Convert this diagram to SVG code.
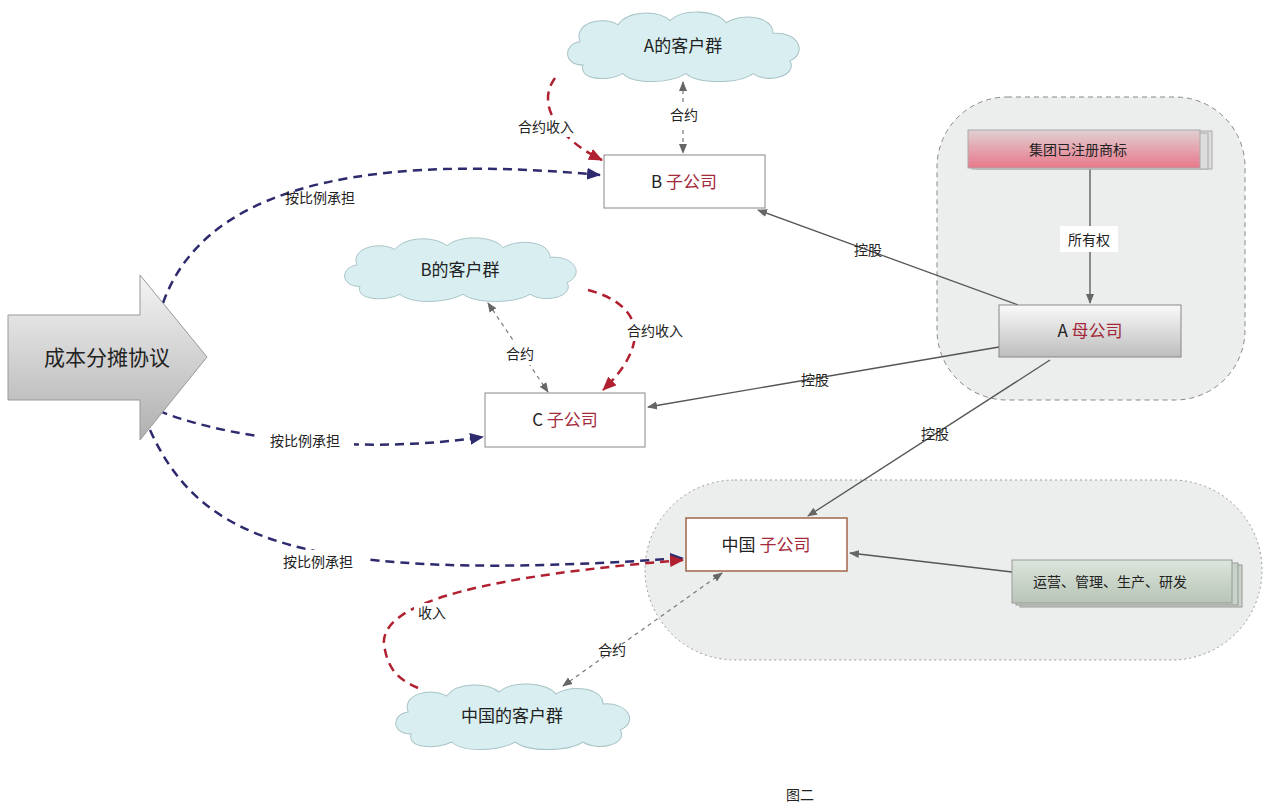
<svg xmlns="http://www.w3.org/2000/svg" width="1280" height="807" viewBox="0 0 1280 807">
<style>
text{font-family:"Noto Sans CJK SC","Liberation Sans",sans-serif;fill:#222;text-anchor:middle}
.t{font-size:17px}.s{font-size:14px}.r{fill:#a3283a}
.cloud{fill:#d8eef0;stroke:#a9c4c6;stroke-width:1}
.gray{fill:none;stroke:#555;stroke-width:1.3}
.dot{fill:none;stroke:#777;stroke-width:1.2;stroke-dasharray:4 4}
.navy{fill:none;stroke:#2d2a6e;stroke-width:2.5;stroke-dasharray:9 6}
.red{fill:none;stroke:#b02030;stroke-width:2.5;stroke-dasharray:9 6}
.bg{fill:#fff}
</style>
<defs>
<linearGradient id="ga" x1="0" y1="0" x2="0" y2="1"><stop offset="0" stop-color="#fafafa"/><stop offset="1" stop-color="#bdbdbd"/></linearGradient>
<linearGradient id="gar" x1="0" y1="0" x2="0" y2="1"><stop offset="0" stop-color="#f4f4f4"/><stop offset="1" stop-color="#b0b0b0"/></linearGradient>
<linearGradient id="gp" x1="0" y1="0" x2="0" y2="1"><stop offset="0" stop-color="#e0d0d3"/><stop offset="1" stop-color="#e8788a"/></linearGradient>
<linearGradient id="gg" x1="0" y1="0" x2="0" y2="1"><stop offset="0" stop-color="#dde5dc"/><stop offset="1" stop-color="#b7c4b6"/></linearGradient>
<marker id="mg" markerWidth="10" markerHeight="10" refX="9" refY="5" orient="auto-start-reverse" markerUnits="userSpaceOnUse"><path d="M0,1 L10,5 L0,9 Z" fill="#666"/></marker>
<marker id="mn" markerWidth="14" markerHeight="12" refX="13" refY="6" orient="auto" markerUnits="userSpaceOnUse"><path d="M0,0 L14,6 L0,12 Z" fill="#2d2a6e"/></marker>
<marker id="mr" markerWidth="14" markerHeight="12" refX="13" refY="6" orient="auto" markerUnits="userSpaceOnUse"><path d="M0,0 L14,6 L0,12 Z" fill="#b02030"/></marker>
<path id="cl" d="M25,52 C5,52 5,32 22,30 C15,12 45,5 60,14 C70,0 100,0 112,10 C125,-2 160,0 168,12 C185,2 215,6 215,22 C240,20 250,40 232,48 C240,62 210,70 195,60 C180,70 140,70 128,60 C110,70 75,70 65,60 C50,68 20,66 25,52 Z"/>
</defs>
<rect width="1280" height="807" fill="#fff"/>
<g id="groupA"><rect x="937" y="97" width="308" height="303" rx="70" fill="#eceded" stroke="#888" stroke-dasharray="5 4"/></g>
<g id="groupChina"><rect x="645" y="480" width="617" height="180" rx="90" fill="#eceded" stroke="#999" stroke-dasharray="2 3"/></g>
<g id="connectors">
<line class="gray" x1="1090" y1="168" x2="1090" y2="303" marker-end="url(#mg)"/>
<rect x="1060" y="226" width="58" height="26" fill="#fff"/><text class="s" x="1089" y="245">所有权</text>
<line class="gray" x1="1018" y1="305" x2="758" y2="210" marker-end="url(#mg)"/>
<text class="s" x="868" y="255">控股</text>
<line class="gray" x1="999" y1="347" x2="648" y2="407" marker-end="url(#mg)"/>
<text class="s" x="815" y="385">控股</text>
<line class="gray" x1="1050" y1="360" x2="808" y2="516" marker-end="url(#mg)"/>
<text class="s" x="935" y="439">控股</text>
<line class="gray" x1="1012" y1="572" x2="850" y2="553" marker-end="url(#mg)"/>
<line class="dot" x1="683" y1="82" x2="683" y2="153" marker-start="url(#mg)" marker-end="url(#mg)"/>
<rect x="664" y="104" width="40" height="22" fill="#fff"/><text class="s" x="684" y="120">合约</text>
<path class="red" d="M555,78 C535,105 560,140 602,160" marker-end="url(#mr)"/>
<rect class="bg" x="512" y="117" width="68" height="20"/><text class="s" x="546" y="132">合约收入</text>
<path class="navy" d="M163,303 C200,200 330,150 600,175" marker-end="url(#mn)"/>
<text class="s" x="320" y="203">按比例承担</text>
<line class="dot" x1="488" y1="303" x2="548" y2="392" marker-start="url(#mg)" marker-end="url(#mg)"/>
<rect x="500" y="343" width="40" height="22" fill="#fff"/><text class="s" x="520" y="359">合约</text>
<path class="red" d="M588,290 C645,305 650,345 603,390" marker-end="url(#mr)"/>
<rect class="bg" x="621" y="321" width="68" height="20"/><text class="s" x="655" y="336">合约收入</text>
<path class="navy" d="M145,405 C220,440 360,455 483,437" marker-end="url(#mn)"/>
<rect class="bg" x="258" y="428" width="96" height="22"/><text class="s" x="305" y="446">按比例承担</text>
<path class="navy" d="M150,430 C200,540 300,585 683,558" marker-end="url(#mn)"/>
<rect class="bg" x="268" y="550" width="100" height="22"/><text class="s" x="318" y="567">按比例承担</text>
<path class="red" d="M418,688 C405,682 390,675 385,650 C370,600 500,575 683,560" marker-end="url(#mr)"/>
<rect class="bg" x="414" y="603" width="36" height="20"/><text class="s" x="432" y="618">收入</text>
<line class="dot" x1="563" y1="686" x2="722" y2="573" marker-start="url(#mg)" marker-end="url(#mg)"/>
<text class="s" x="612" y="655">合约</text>
</g>
<g id="arrow"><polygon points="8,315 140,315 140,275 207,357 140,440 140,400 8,400" fill="url(#gar)" stroke="#999"/><text x="107" y="365" style="font-size:21px">成本分摊协议</text></g>
<g id="cloudA"><use href="#cl" class="cloud" transform="translate(558,10) scale(1,1.06)"/><text class="t" x="683" y="52">A的客户群</text></g>
<g id="cloudB"><use href="#cl" class="cloud" transform="translate(335,236) scale(1,0.97)"/><text class="t" x="460" y="276">B的客户群</text></g>
<g id="cloudC"><use href="#cl" class="cloud" transform="translate(386,682) scale(1.01,1)"/><text class="t" x="512" y="722">中国的客户群</text></g>
<g id="nodeB"><rect x="604" y="155" width="161" height="53" fill="#fff" stroke="#888"/><text class="t" x="684" y="188">B <tspan class="r">子公司</tspan></text></g>
<g id="nodeC"><rect x="485" y="393" width="160" height="54" fill="#fff" stroke="#888"/><text class="t" x="565" y="426">C <tspan class="r">子公司</tspan></text></g>
<g id="nodeChina"><rect x="686" y="518" width="161" height="53" fill="#fff" stroke="#a0664a" stroke-width="1.5"/><text class="t" x="766" y="551">中国 <tspan class="r">子公司</tspan></text></g>
<g id="nodeA"><rect x="999" y="305" width="182" height="52" fill="url(#ga)" stroke="#888"/><text class="t" x="1090" y="337">A <tspan class="r">母公司</tspan></text></g>
<g id="nodeTM"><rect x="976" y="131" width="236" height="38" fill="#ddd" stroke="#aaa"/><rect x="972" y="133" width="236" height="36" fill="#ddd" stroke="#aaa"/><rect x="968" y="130" width="232" height="38" fill="url(#gp)" stroke="#aaa"/><text class="s" x="1078" y="155">集团已注册商标</text></g>
<g id="nodeOps"><rect x="1020" y="565" width="222" height="42" fill="#c9d2c8" stroke="#999"/><rect x="1016" y="563" width="222" height="42" fill="#c9d2c8" stroke="#999"/><rect x="1012" y="560" width="220" height="43" fill="url(#gg)" stroke="#999"/><text class="s" x="1110" y="587">运营、管理、生产、研发</text></g>
<text class="s" x="800" y="800">图二</text>
</svg>
